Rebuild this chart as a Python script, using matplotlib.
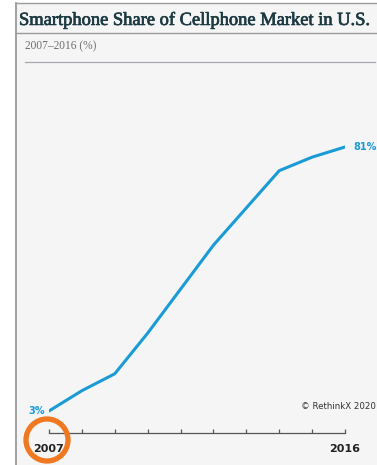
import matplotlib.pyplot as plt
import matplotlib.patheffects as pe
from matplotlib.patches import Rectangle, Circle
from matplotlib.lines import Line2D

# smartphone share of US cellphone market, %
anos = [2007, 2008, 2009, 2010, 2011, 2012, 2013, 2014, 2015, 2016]
share = [3, 9, 14, 26, 39, 52, 63, 74, 78, 81]
rotulos_x = {2007: '2007', 2016: '2016'}

W, H = 377, 465
fig = plt.figure(figsize=(W / 100, H / 100), dpi=100)
fig.patch.set_facecolor('white')

def px(x, y):
    return x / W, 1 - y / H

# painel de fundo e bordas
fig.patches.append(Rectangle(px(16, H), (W - 16) / W, (H - 3) / H, transform=fig.transFigure,
                             facecolor='#f5f5f6', edgecolor='none', zorder=-2))
fig.lines.append(Line2D([16 / W, 16 / W], [1 - 3 / H, 0], transform=fig.transFigure,
                        color='#9a9a9a', lw=1.3))
fig.lines.append(Line2D([16 / W, 1], [1 - 3 / H, 1 - 3 / H], transform=fig.transFigure,
                        color='#9a9a9a', lw=1.0))
fig.lines.append(Line2D([16 / W, 1], [1 - 33 / H, 1 - 33 / H], transform=fig.transFigure,
                        color='#9a9a9a', lw=1.0))
fig.lines.append(Line2D([25 / W, 375 / W], [1 - 62 / H, 1 - 62 / H], transform=fig.transFigure,
                        color='#a8a8b0', lw=0.9))

titulo = fig.text(*px(19, 20), 'Smartphone Share of Cellphone Market in U.S.',
                  family='Liberation Serif', fontsize=14, color='#1d3a42',
                  va='center', ha='left',
                  path_effects=[pe.withStroke(linewidth=0.5, foreground='#1d3a42')])
# ajusta o tamanho do titulo para caber em ~352 px
r = fig.canvas.get_renderer()
larg = titulo.get_window_extent(r).width
titulo.set_fontsize(14 * 352 / larg)

fig.text(*px(25, 46), '2007–2016 (%)', family='Liberation Serif', fontsize=8.3,
         color='#6e6e6e', va='center', ha='left')

ax = fig.add_axes([49 / W, 32 / H, 296 / W, 351 / H])
ax.set_facecolor('none')
ax.plot(anos, share, color='#1a9bd6', lw=2.2, solid_capstyle='round', solid_joinstyle='round')
ax.set_xlim(2007, 2016)
ax.set_ylim(-3.5, 100.2)

for s in ['top', 'right', 'left']:
    ax.spines[s].set_visible(False)
ax.spines['bottom'].set_color('#555555')
ax.spines['bottom'].set_linewidth(0.9)
ax.set_yticks([])
ax.set_xticks(anos)
ax.set_xticklabels([rotulos_x.get(a, '') for a in anos])
ax.tick_params(axis='x', direction='in', length=3, width=0.9, color='#555555', pad=8,
               labelsize=8, labelcolor='#222222')
for t in ax.get_xticklabels():
    t.set_fontweight('bold')

ax.annotate(f'{share[-1]}%', (anos[-1], share[-1]), xytext=(6, 0), textcoords='offset points',
            color='#1a9bd6', fontsize=7, fontweight='bold', va='center', ha='left',
            annotation_clip=False)
ax.annotate(f'{share[0]}%', (anos[0], share[0]), xytext=(-3, 0), textcoords='offset points',
            color='#1a9bd6', fontsize=7, fontweight='bold', va='center', ha='right',
            annotation_clip=False)

fig.text(*px(376, 406), '© RethinkX 2020', fontsize=6.2, color='#333333', va='center', ha='right')

# circulo laranja em volta de 2007
fig.patches.append(Circle((0.47, (H - 440) / 100), 0.21, transform=fig.dpi_scale_trans,
                          facecolor='none', edgecolor='#f07820', lw=3.8, zorder=5))

fig.savefig('out.png', dpi=100)
